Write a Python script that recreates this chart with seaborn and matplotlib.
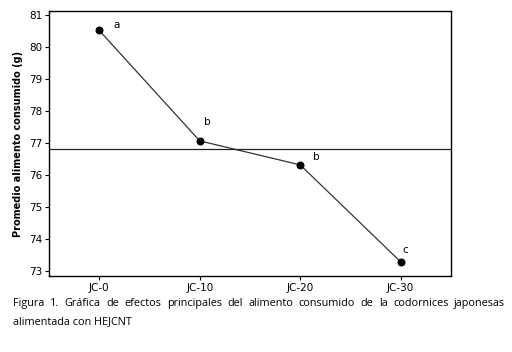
import matplotlib
matplotlib.use("Agg")
import matplotlib.pyplot as plt
import seaborn as sns
import pandas as pd

groups = ["JC-0", "JC-10", "JC-20", "JC-30"]
consumo = [80.52, 77.07, 76.32, 73.29]
letras = ["a", "b", "b", "c"]
media = 76.82

caption1 = "Figura 1. Gráfica de efectos principales del alimento consumido de la codornices japonesas"
caption2 = "alimentada con HEJCNT"

df = pd.DataFrame({"grupo": groups, "consumo": consumo})

sns.set_style("white")
plt.rcParams['font.family'] = ['DejaVu Sans']
plt.rcParams['text.color'] = 'black'
plt.rcParams['xtick.color'] = 'black'
plt.rcParams['ytick.color'] = 'black'
plt.rcParams['axes.labelcolor'] = 'black'

fig = plt.figure(figsize=(5.12, 3.52), dpi=100)
ax = fig.add_axes([0.0957, 0.216, 0.785, 0.753])

sns.lineplot(data=df, x="grupo", y="consumo", ax=ax, color="#333333", lw=0.9,
             marker="o", markersize=5, markerfacecolor="black", markeredgecolor="black",
             sort=False)
ax.axhline(media, color="#222222", lw=0.9)

offsets = [(10, 0), (3, 10), (9, 2), (1, 5)]
for i, (g, v, l) in enumerate(zip(groups, consumo, letras)):
    ax.annotate(l, (i, v), xytext=offsets[i], textcoords="offset points",
                fontsize=7.5, ha="left", va="bottom", color="black")

ax.set_xlim(-0.5, 3.5)
ax.set_ylim(72.85, 81.13)
ax.set_yticks([73, 74, 75, 76, 77, 78, 79, 80, 81])
ax.set_xlabel("")
ax.set_ylabel("Promedio alimento consumido (g)", fontsize=7, fontweight="bold")
ax.tick_params(axis="both", labelsize=7.5, length=3, width=0.8, direction="out",
               left=True, bottom=True, pad=2)
for s in ax.spines.values():
    s.set_color("black")
    s.set_linewidth(1.0)

# justified first caption line
fig.canvas.draw()
r = fig.canvas.get_renderer()
words = caption1.split(" ")
x0, x1 = 13 / 512, 505 / 512
ts = [fig.text(0, 0, w, fontsize=7.8, family="Open Sans", va="baseline") for w in words]
ws = [t.get_window_extent(r).width / 512 for t in ts]
gap = (x1 - x0 - sum(ws)) / (len(words) - 1)
x = x0
for t, w in zip(ts, ws):
    t.set_position((x, 1 - 306 / 352))
    x += w + gap
fig.text(x0, 1 - 324 / 352, caption2, fontsize=7.8, family="Open Sans", va="baseline")

fig.savefig("out.png", dpi=100)
